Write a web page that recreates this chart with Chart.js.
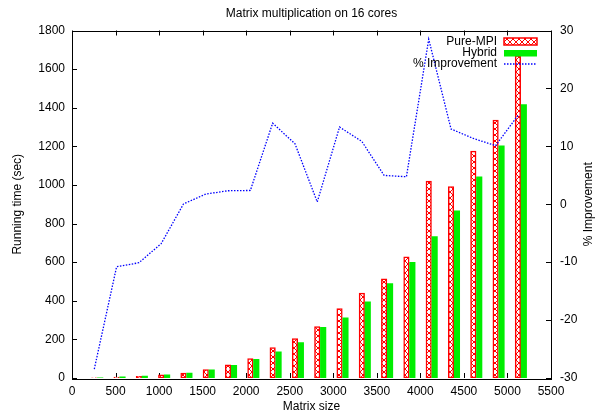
<!DOCTYPE html>
<html>
<head>
<meta charset="utf-8">
<title>Matrix multiplication on 16 cores</title>
<script src="https://cdn.jsdelivr.net/npm/chart.js@4/dist/chart.umd.min.js"></script>
<style>
  html, body { margin: 0; padding: 0; background: #fff; }
  #wrap { width: 595px; height: 415px; position: relative; }
</style>
</head>
<body>
<div id="wrap"><canvas id="chart"></canvas></div>
<script>
// Matrix sizes tested
const matrixSizes = [256, 512, 768, 1024, 1280, 1536, 1792, 2048, 2304, 2560,
                     2816, 3072, 3328, 3584, 3840, 4096, 4352, 4608, 4864, 5120];
// Running time in seconds
const pureMpiTimes = [1, 5, 9, 16, 26, 43, 68, 100, 157, 204,
                      266, 359, 440, 514, 627, 1020, 992, 1175, 1336, 1670];
const hybridTimes  = [1.3, 5.5, 10, 17, 26, 42, 66, 97, 135, 183,
                      262, 312, 395, 489, 599, 732, 866, 1042, 1203, 1416];
// Percentage improvement of hybrid over pure MPI
const improvement  = [-28.45, -10.8, -10.1, -6.8, 0.05, 1.76, 2.33, 2.38, 14.0, 10.45,
                      0.4, 13.33, 10.85, 4.98, 4.75, 28.5, 13.0, 11.36, 10.12, 15.33];
// Axis tick settings
const xTicks  = { min: 0, max: 5500, step: 500 };
const yTicks  = { min: 0, max: 1800, step: 200 };
const y2Ticks = { min: -30, max: 30, step: 10 };

const FONT = '"Liberation Sans", Arial, Helvetica, sans-serif';
const HYBRID_SHIFT = 68;   // hybrid box sits just right of the pure-MPI box
const plainNumber = v => String(v);

function makeHatch(ctx) {
  const c = document.createElement('canvas');
  c.width = 6; c.height = 6;
  const g = c.getContext('2d');
  g.fillStyle = '#ffffff';
  g.fillRect(0, 0, 6, 6);
  g.strokeStyle = '#ff0000';
  g.lineWidth = 1;
  g.beginPath();
  g.moveTo(0, 0); g.lineTo(6, 6);
  g.moveTo(6, 0); g.lineTo(0, 6);
  g.stroke();
  return ctx.createPattern(c, 'repeat');
}

const canvas = document.getElementById('chart');
const ctx0 = canvas.getContext('2d');
const hatch = makeHatch(ctx0);

const RED = '#ff0000', GREEN = '#00ee00', BLUE = '#0000ff';

// Frame, inward ticks, titles and key
const decorations = {
  id: 'decorations',
  beforeDatasetsDraw(chart) {
    const { ctx, chartArea: a, scales } = chart;
    ctx.save();
    ctx.strokeStyle = '#000';
    ctx.lineWidth = 1;
    ctx.beginPath();
    const tl = 5;
    for (let v = xTicks.min; v <= xTicks.max; v += xTicks.step) {
      const px = Math.round(scales.x.getPixelForValue(v)) + 0.5;
      ctx.moveTo(px, a.bottom); ctx.lineTo(px, a.bottom - tl);
      ctx.moveTo(px, a.top); ctx.lineTo(px, a.top + tl);
    }
    for (let v = yTicks.min; v <= yTicks.max; v += yTicks.step) {
      const py = Math.round(scales.y.getPixelForValue(v)) + 0.5;
      ctx.moveTo(a.left, py); ctx.lineTo(a.left + tl, py);
    }
    for (let v = y2Ticks.min; v <= y2Ticks.max; v += y2Ticks.step) {
      const py = Math.round(scales.y2.getPixelForValue(v)) + 0.5;
      ctx.moveTo(a.right, py); ctx.lineTo(a.right - tl, py);
    }
    ctx.stroke();
    ctx.restore();
  },
  afterDraw(chart) {
    const { ctx, chartArea: a } = chart;
    ctx.save();
    // plot border
    ctx.strokeStyle = '#000';
    ctx.lineWidth = 1;
    ctx.strokeRect(Math.round(a.left) + 0.5, Math.round(a.top) + 0.5,
                   Math.round(a.right - a.left), Math.round(a.bottom - a.top));

    ctx.fillStyle = '#000';
    ctx.font = '12px ' + FONT;
    ctx.textBaseline = 'middle';
    ctx.textAlign = 'center';
    const cx = (a.left + a.right) / 2;
    ctx.fillText('Matrix multiplication on 16 cores', cx, 14);
    ctx.fillText('Matrix size', cx, 407);
    const cy = (a.top + a.bottom) / 2;
    ctx.save();
    ctx.translate(18, cy); ctx.rotate(-Math.PI / 2);
    ctx.fillText('Running time (sec)', 0, 0);
    ctx.restore();
    ctx.save();
    ctx.translate(589, cy); ctx.rotate(-Math.PI / 2);
    ctx.fillText('% Improvement', 0, 0);
    ctx.restore();

    // key
    const tx = 497, sx0 = 504, sx1 = 537;
    const rows = [41.5, 53, 64];
    ctx.textAlign = 'right';
    ctx.fillText('Pure-MPI', tx, rows[0]);
    ctx.fillText('Hybrid', tx, rows[1]);
    ctx.fillText('% Improvement', tx, rows[2]);

    ctx.fillStyle = hatch;
    ctx.fillRect(sx0, rows[0] - 3.5, sx1 - sx0, 7);
    ctx.strokeStyle = RED;
    ctx.lineWidth = 1.5;
    ctx.strokeRect(sx0, rows[0] - 3.5, sx1 - sx0, 7);

    ctx.fillStyle = GREEN;
    ctx.fillRect(sx0, rows[1] - 3, sx1 - sx0, 6.5);

    ctx.strokeStyle = BLUE;
    ctx.lineWidth = 1.3;
    ctx.setLineDash([1.5, 1.5]);
    ctx.beginPath();
    ctx.moveTo(sx0, rows[2]); ctx.lineTo(sx1, rows[2]);
    ctx.stroke();
    ctx.restore();
  }
};

new Chart(canvas, {
  type: 'bar',
  data: {
    datasets: [
      {
        type: 'line',
        label: '% Improvement',
        data: matrixSizes.map((s, i) => ({ x: s, y: improvement[i] })),
        yAxisID: 'y2',
        borderColor: BLUE,
        borderWidth: 1.3,
        borderDash: [1.5, 1.5],
        pointRadius: 0,
        tension: 0,
        fill: false,
        order: 0
      },
      {
        label: 'Pure-MPI',
        data: matrixSizes.map((s, i) => ({ x: s, y: pureMpiTimes[i] })),
        yAxisID: 'y',
        backgroundColor: hatch,
        borderColor: RED,
        borderWidth: 1.5,
        borderSkipped: false,
        barThickness: 5.5,
        grouped: false,
        order: 2
      },
      {
        label: 'Hybrid',
        data: matrixSizes.map((s, i) => ({ x: s + HYBRID_SHIFT, y: hybridTimes[i] })),
        yAxisID: 'y',
        backgroundColor: GREEN,
        borderWidth: 0,
        barThickness: 5.5,
        grouped: false,
        order: 1
      }
    ]
  },
  options: {
    responsive: true,
    maintainAspectRatio: false,
    animation: false,
    devicePixelRatio: 1,
    layout: { padding: { top: 30.5, left: 0, right: 0, bottom: 0 } },
    plugins: {
      legend: { display: false },
      title: { display: false },
      tooltip: { enabled: false }
    },
    scales: {
      x: {
        type: 'linear',
        min: xTicks.min, max: xTicks.max,
        offset: false,
        grid: { display: false, drawTicks: false },
        border: { display: false },
        ticks: { stepSize: xTicks.step, padding: 6, color: '#000', font: { family: FONT, size: 12 },
                 maxRotation: 0, autoSkip: false, callback: plainNumber },
        afterFit(s) { s.height = 37; }
      },
      y: {
        position: 'left',
        min: yTicks.min, max: yTicks.max,
        grid: { display: false, drawTicks: false },
        border: { display: false },
        ticks: { stepSize: yTicks.step, padding: 7, color: '#000', font: { family: FONT, size: 12 },
                 callback: plainNumber },
        afterFit(s) { s.width = 72; }
      },
      y2: {
        position: 'right',
        min: y2Ticks.min, max: y2Ticks.max,
        grid: { display: false, drawTicks: false },
        border: { display: false },
        ticks: { stepSize: y2Ticks.step, padding: 9, color: '#000', font: { family: FONT, size: 12 },
                 callback: plainNumber },
        afterFit(s) { s.width = 44; }
      }
    }
  },
  plugins: [decorations]
});
</script>
</body>
</html>
